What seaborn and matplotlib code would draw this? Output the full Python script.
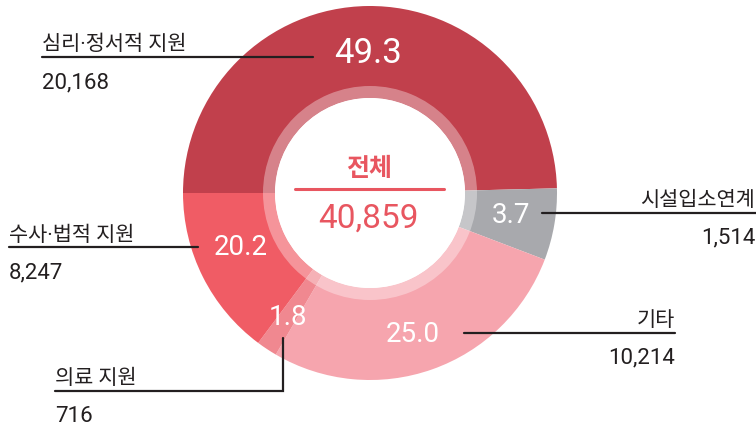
import matplotlib
matplotlib.use("Agg")
import matplotlib.pyplot as plt
from matplotlib.patches import Circle, Wedge
import seaborn as sns

# data
categories = ["심리·정서적 지원", "시설입소연계", "기타", "의료 지원", "수사·법적 지원"]
shares = [49.3, 3.7, 25.0, 1.8, 20.2]          # printed percentages
counts = [20168, 1514, 10214, 716, 8247]
total = 40859
# the wedges in the original artwork are not drawn to scale;
# these are the arc sizes (in %)
arc_shares = [49.6, 6.2, 27.6, 1.8, 14.8]
colors = ["#C1404C", "#A8A9AD", "#F6A5AE", "#F08890", "#F05C65"]

sns.set_theme(style="white")
plt.rcParams["font.family"] = ["Roboto", "Noto Sans CJK KR", "DejaVu Sans"]

W, H = 756, 426
fig = plt.figure(figsize=(7.56, 4.26), dpi=100)
ax = fig.add_axes([0, 0, 1, 1])


def Y(y):
    # pixel row (from top) to data y
    return H - y


cx, cy = 370, Y(193)
r_out, r_in = 187, 95

ax.pie(arc_shares, colors=colors, startangle=180, counterclock=False,
       center=(cx, cy), radius=r_out,
       wedgeprops=dict(width=r_out - r_in, linewidth=0))

# translucent inner ring and white hole
ax.add_patch(Wedge((cx, cy), 107, 0, 360, width=12, facecolor="white",
                   alpha=0.35, linewidth=0))
ax.add_patch(Circle((cx, cy), r_in, facecolor="white", linewidth=0))

ax.set_xlim(0, W)
ax.set_ylim(0, H)
ax.set_aspect("equal")
ax.axis("off")

# percentages inside the ring
pct_pos = [(368, 63, 25), (511, 223, 20), (413, 342, 20), (288, 325, 20), (241, 255, 20)]
for v, (x, y, fs) in zip(shares, pct_pos):
    ax.text(x, Y(y), f"{v:.1f}", color="white", fontsize=fs, ha="center",
            va="baseline")

# center total
red = "#E85660"
ax.text(369, Y(176), "전체", color=red, fontsize=18, fontweight="bold",
        ha="center", va="baseline")
ax.plot([295, 444], [Y(189), Y(189)], color=red, lw=2.2)
ax.text(368, Y(228), f"{total:,}", color=red, fontsize=24, ha="center",
        va="baseline")

# callouts: label x, align, name baseline, count baseline, leader line
ink = "#231F20"
callouts = [
    (42, "left", 50, 88, [(42, 57), (313, 57)]),
    (755, "right", 206, 243, [(542, 213), (756, 213)]),
    (675, "right", 326, 363, [(464, 333), (675, 333)]),
    (55, "left", 384, 422, [(55, 391), (283, 391), (283, 338)]),
    (9, "left", 241, 278, [(9, 247), (198, 247)]),
]
for name, n, (x, ha, yn, yc, pts) in zip(categories, counts, callouts):
    ax.text(x, Y(yn), name, color=ink, fontsize=15, ha=ha, va="baseline")
    ax.text(x, Y(yc), f"{n:,}", color=ink, fontsize=16, ha=ha, va="baseline")
    ax.plot([p[0] for p in pts], [Y(p[1]) for p in pts], color=ink, lw=1.6,
            solid_joinstyle="miter")

fig.savefig("out.png", dpi=100)
